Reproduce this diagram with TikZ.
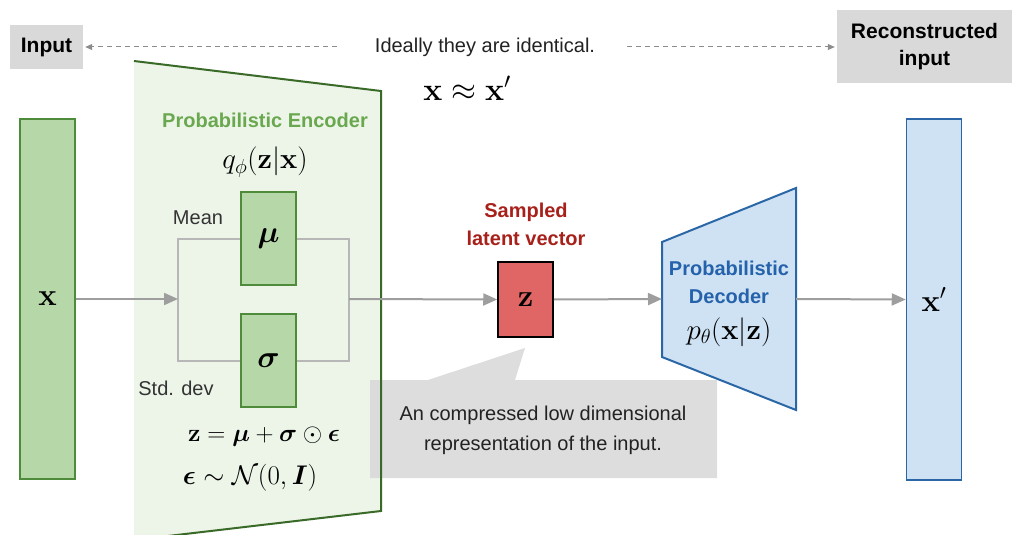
\documentclass[tikz,border=0pt]{standalone}
\usepackage{fix-cm}
\usepackage{amsmath}
\usepackage{amssymb}
\usepackage[no-math]{fontspec}
\setmainfont{Liberation Sans}
\usetikzlibrary{arrows.meta,positioning,calc}
\definecolor{vaeGray}{HTML}{D9D9D9}
\definecolor{vaeInk}{HTML}{222222}
\definecolor{vaeGreenFill}{HTML}{B6D7A8}
\definecolor{vaeGreenLine}{HTML}{4E8B3A}
\definecolor{vaeEncFill}{HTML}{EDF5E9}
\definecolor{vaeEncLine}{HTML}{3A6A28}
\definecolor{vaeEncText}{HTML}{6AA84F}
\definecolor{vaeBlueFill}{HTML}{CFE2F3}
\definecolor{vaeBlueLine}{HTML}{2B67A6}
\definecolor{vaeDecText}{HTML}{2462AB}
\definecolor{vaeRed}{HTML}{E06666}
\definecolor{vaeRedText}{HTML}{A8201A}
\definecolor{vaeArrowGray}{HTML}{9E9E9E}
\definecolor{vaeBranchGray}{HTML}{B7B7B7}
\definecolor{vaeDashGray}{HTML}{8C8C8C}
\tikzset{
  vaeText/.style={
    text=vaeInk,
    font=\fontsize{20}{28}\selectfont,
    align=center,
    inner sep=0pt
  },
  vaeTag/.style={
    fill=vaeGray,
    text=black,
    font=\bfseries\fontsize{21}{27}\selectfont,
    align=center,
    inner sep=0pt
  },
  vaeBox/.style={
    draw,
    line width=1.5pt,
    minimum width=55pt,
    inner sep=0pt,
    font=\fontsize{31}{34}\selectfont
  },
  vaeGreen/.style={
    vaeBox,
    draw=vaeGreenLine,
    fill=vaeGreenFill
  },
  vaeBlue/.style={
    vaeBox,
    draw=vaeBlueLine,
    fill=vaeBlueFill
  },
  vaeLatent/.style={
    vaeBox,
    draw=black,
    fill=vaeRed
  },
  vaeMath/.style={
    font=\fontsize{29}{32}\selectfont,
    inner sep=0pt
  },
  vaeArrow/.style={
    -{Triangle[length=14pt,width=12pt]},
    line width=2pt,
    draw=vaeArrowGray
  },
  vaeBranch/.style={
    line width=2pt,
    draw=vaeBranchGray
  },
  vaeDash/.style={
    -{Triangle[length=7pt,width=6pt]},
    dash pattern=on 5pt off 4pt,
    line width=1pt,
    draw=vaeDashGray
  }
}
\begin{document}
\begin{tikzpicture}[x=1pt, y=-1pt]
  \useasboundingbox (0,0) rectangle (1018,535);

  % encoder body, outline drawn again after the callout
  \fill[vaeEncFill] (134,61) -- (381,91) -- (381,511) -- (134,540) -- cycle;
  \fill[vaeBlueFill] (662,242) -- (796,188) -- (796,410) -- (662,357) -- cycle;
  \draw[vaeBlueLine, line width=2pt, line join=miter] (662,242) -- (796,188) -- (796,410) -- (662,357) -- cycle;
  \coordinate (decIn) at (662,299);
  \coordinate (decOut) at (796,299);

  % callout under the latent vector
  \fill[vaeGray, fill opacity=0.9] (370,380) -- (428,380) -- (525,348) -- (515,380) -- (717,380) -- (717,478) -- (370,478) -- cycle;
  \draw[vaeEncLine, line width=2pt] (134,61) -- (381,91) -- (381,511) -- (134,540);

  \node[vaeTag, minimum width=73pt, minimum height=44pt] (inTag) at (46.5,47) {Input};
  \node[vaeTag, minimum width=175pt, minimum height=73pt] (outTag) at (924.5,46.5) {Reconstructed\\input};
  \node[vaeText] (ideal) at (485,47) {Ideally they are identical.};
  \node[vaeMath, font=\fontsize{32}{34}\selectfont] (approx) at (467,88) {$\mathbf{x}\approx\mathbf{x}'$};

  \node[vaeGreen, minimum height=360pt] (xin) at (47.5,299) {$\mathbf{x}$};
  \node[vaeBlue, minimum height=361pt] (xout) at (934,299.5) {$\mathbf{x}'$};
  \node[vaeGreen, minimum height=93pt] (mu) at (268.5,238.5) {$\boldsymbol{\mu}$};
  \node[vaeGreen, minimum height=93pt] (sigma) at (268.5,360.5) {$\boldsymbol{\sigma}$};
  \node[vaeLatent, minimum height=75pt] (z) at (525.5,299.5) {$\mathbf{z}$};

  \node[vaeText, text=vaeEncText, font=\bfseries\fontsize{20}{28}\selectfont] (encTitle) at (265,120) {Probabilistic Encoder};
  \node[vaeMath] (qphi) at (265,162) {$q_\phi(\mathbf{z}|\mathbf{x})$};
  \node[vaeText, text=black!80] (meanLbl) at (198,218) {Mean};
  \node[vaeText, text=black!80] (stdLbl) at (176,388) {Std. dev};
  \node[vaeMath, font=\fontsize{25}{28}\selectfont] (reparam) at (264,437) {$\mathbf{z}=\boldsymbol{\mu}+\boldsymbol{\sigma}\odot\boldsymbol{\epsilon}$};
  \node[vaeMath, font=\fontsize{27}{30}\selectfont] (noise) at (250,478) {$\boldsymbol{\epsilon}\sim\mathcal{N}(0,\boldsymbol{I})$};

  \node[vaeText, text=vaeRedText, font=\bfseries\fontsize{20}{28}\selectfont] (zLbl) at (526,224) {Sampled\\latent vector};
  \node[vaeText, text=vaeDecText, font=\bfseries\fontsize{20}{28}\selectfont] (decTitle) at (729,282) {Probabilistic\\Decoder};
  \node[vaeMath] (ptheta) at (729,332) {$p_\theta(\mathbf{x}|\mathbf{z})$};
  \node[vaeText, font=\fontsize{20}{30}\selectfont] (note) at (543,430) {An compressed low dimensional\\representation of the input.};

  \coordinate (split) at (178,299);
  \coordinate (merge) at (349,299);

  \draw[vaeBranch] (split) |- (mu.west);
  \draw[vaeBranch] (split) |- (sigma.west);
  \draw[vaeBranch] (mu.east) -| (merge);
  \draw[vaeBranch] (sigma.east) -| (merge);

  \draw[vaeArrow] (xin.east) -- (split);
  \draw[vaeArrow] (merge) -- (z.west);
  \draw[vaeArrow] (z.east) -- (decIn);
  \draw[vaeArrow] (decOut) -- (xout.west);

  \draw[vaeDash, shorten <=38pt, shorten >=2pt] (ideal.west) -- (inTag.east);
  \draw[vaeDash, shorten <=32pt, shorten >=2pt] (ideal.east) -- (outTag.west |- ideal.east);
\end{tikzpicture}
\end{document}
